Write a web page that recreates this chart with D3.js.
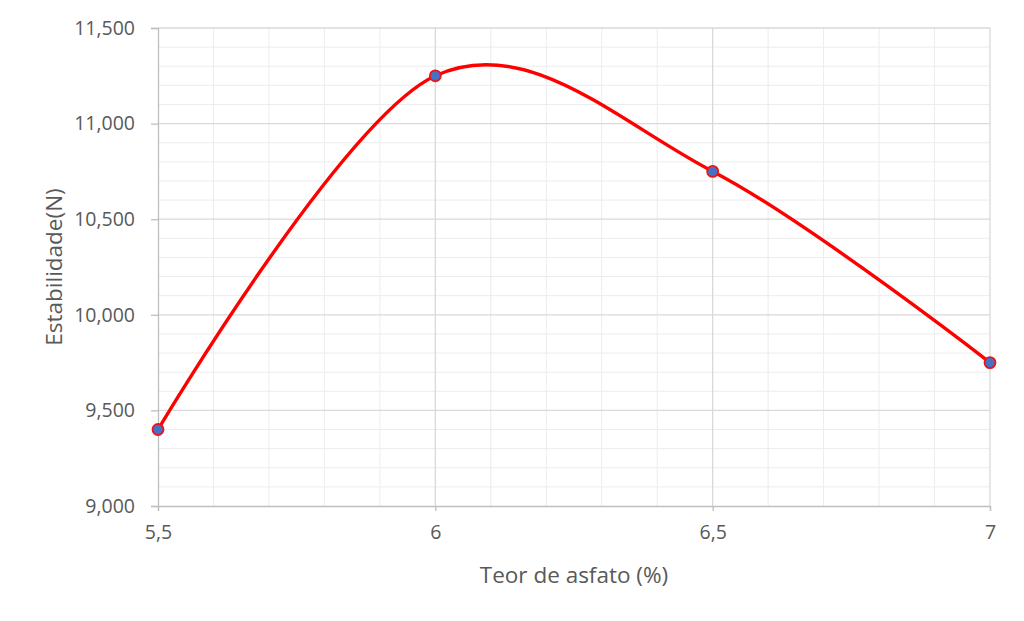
<!DOCTYPE html>
<html>
<head>
<meta charset="utf-8">
<script src="https://cdn.jsdelivr.net/npm/d3@7"></script>
<style>
  body { margin: 0; background: #fff; }
  text { font-family: "Open Sans", Lato, sans-serif; fill: #595959; }
</style>
</head>
<body>
<div id="chart"></div>
<script>
// data
const teor = [5.5, 6, 6.5, 7];
const estabilidade = [9400, 11250, 10750, 9750];
const xTicks = [5.5, 6, 6.5, 7];
const yTicks = [9000, 9500, 10000, 10500, 11000, 11500];

function main() {
    const canvasWidth = 1024;
    const canvasHeight = 621;

    const svg = d3.select("#chart").append("svg")
        .attr("width", canvasWidth)
        .attr("height", canvasHeight);

    const left = 158, right = 990, top = 28, bottom = 506;

    const xScale = d3.scaleLinear().domain([5.5, 7]).range([left, right]);
    const yScale = d3.scaleLinear().domain([9000, 11500]).range([bottom, top]);

    // minor grid
    svg.append("g")
        .selectAll("line")
        .data(d3.range(9100, 11500, 100).filter(v => v % 500 !== 0))
        .join("line")
        .attr("x1", left).attr("x2", right)
        .attr("y1", d => yScale(d)).attr("y2", d => yScale(d))
        .attr("stroke", "#ececec").attr("stroke-width", 1);

    svg.append("g")
        .selectAll("line")
        .data(d3.range(1, 15).filter(i => i % 5 !== 0).map(i => 5.5 + i * 0.1))
        .join("line")
        .attr("x1", d => xScale(d)).attr("x2", d => xScale(d))
        .attr("y1", top).attr("y2", bottom)
        .attr("stroke", "#ececec").attr("stroke-width", 1);

    // major grid
    svg.append("g")
        .selectAll("line")
        .data(yTicks.slice(1))
        .join("line")
        .attr("x1", left).attr("x2", right)
        .attr("y1", d => yScale(d)).attr("y2", d => yScale(d))
        .attr("stroke", "#d9d9d9").attr("stroke-width", 1.3);

    svg.append("g")
        .selectAll("line")
        .data(xTicks.slice(1))
        .join("line")
        .attr("x1", d => xScale(d)).attr("x2", d => xScale(d))
        .attr("y1", top).attr("y2", bottom)
        .attr("stroke", "#d9d9d9").attr("stroke-width", 1.3);

    // axes
    const fmtY = d3.format(",");
    const fmtX = d => String(d).replace(".", ",");

    const yAxis = svg.append("g")
        .attr("transform", "translate(" + left + ",0)")
        .call(d3.axisLeft(yScale).tickValues(yTicks).tickFormat(fmtY).tickSize(7).tickPadding(16));
    yAxis.selectAll("text").attr("font-size", "19.5px").attr("fill", "#595959");

    const xAxis = svg.append("g")
        .attr("transform", "translate(0," + bottom + ")")
        .call(d3.axisBottom(xScale).tickValues(xTicks).tickFormat(fmtX).tickSize(5).tickPadding(14));
    xAxis.selectAll("text").attr("font-size", "19.5px").attr("fill", "#595959");

    svg.selectAll(".domain, .tick line").attr("stroke", "#bfbfbf").attr("stroke-width", 1.3);

    // titles
    svg.append("text")
        .attr("x", (left + right) / 2)
        .attr("y", 583)
        .attr("text-anchor", "middle")
        .attr("font-size", "22.5px")
        .text("Teor de asfato (%)");

    svg.append("text")
        .attr("transform", "translate(62," + (top + bottom) / 2 + ") rotate(-90)")
        .attr("text-anchor", "middle")
        .attr("font-size", "22.5px")
        .text("Estabilidade(N)");

    // smoothed line
    const points = teor.map((t, i) => [t, estabilidade[i]]);
    const line = d3.line()
        .x(d => xScale(d[0]))
        .y(d => yScale(d[1]))
        .curve(d3.curveCatmullRom.alpha(0));

    svg.append("path")
        .datum(points)
        .attr("fill", "none")
        .attr("stroke", "#ff0000")
        .attr("stroke-width", 3.4)
        .attr("d", line);

    svg.append("g")
        .selectAll("circle")
        .data(points)
        .join("circle")
        .attr("cx", d => xScale(d[0]))
        .attr("cy", d => yScale(d[1]))
        .attr("r", 5.5)
        .attr("fill", "#4472c4")
        .attr("stroke", "#e8151b")
        .attr("stroke-width", 1.8);
}
main();
</script>
</body>
</html>
